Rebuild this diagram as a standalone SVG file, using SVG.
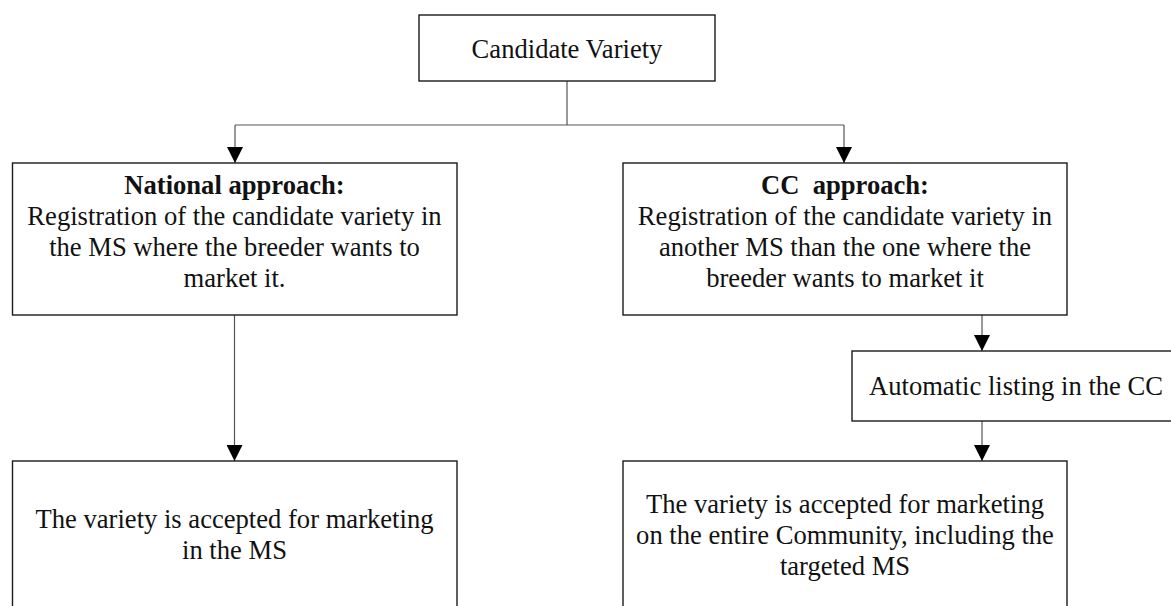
<svg xmlns="http://www.w3.org/2000/svg" width="1171" height="606" viewBox="0 0 1171 606">
  <style>
    .box { fill: #ffffff; stroke: #1a1a1a; stroke-width: 1.4; }
    .link { fill: none; stroke: #555555; stroke-width: 1.2; }
    .txt { font-family: "Liberation Serif", "Times New Roman", serif; font-size: 26.6px; fill: #111111; text-anchor: middle; }
    .bold { font-weight: bold; }
  </style>
  <defs>
    <marker id="arrow" markerUnits="userSpaceOnUse" markerWidth="16" markerHeight="16" viewBox="0 0 16 16" refX="16" refY="8" orient="auto">
      <path d="M0,0 L16,8 L0,16 z" fill="#000000"/>
    </marker>
  </defs>
  <rect width="1171" height="606" fill="#ffffff"/>

  <!-- connectors -->
  <g id="connectors">
    <polyline class="link" points="567,81 567,125"/>
    <polyline class="link" points="235,125 844,125"/>
    <line class="link" x1="235" y1="125" x2="235" y2="163" marker-end="url(#arrow)"/>
    <line class="link" x1="844" y1="125" x2="844" y2="163" marker-end="url(#arrow)"/>
    <line class="link" x1="234.5" y1="315" x2="234.5" y2="461" marker-end="url(#arrow)"/>
    <line class="link" x1="982" y1="315" x2="982" y2="351" marker-end="url(#arrow)"/>
    <line class="link" x1="982" y1="421" x2="982" y2="461" marker-end="url(#arrow)"/>
  </g>

  <!-- top node -->
  <g id="candidate">
    <rect class="box" x="419" y="15" width="296" height="66"/>
    <text class="txt" x="567" y="58">Candidate Variety</text>
  </g>

  <!-- national approach -->
  <g id="national">
    <rect class="box" x="12.5" y="163" width="444.5" height="152"/>
    <text class="txt" x="234.5" y="194"><tspan class="bold">National approach:</tspan></text>
    <text class="txt" x="234.5" y="225">Registration of the candidate variety in</text>
    <text class="txt" x="234.5" y="256">the MS where the breeder wants to</text>
    <text class="txt" x="234.5" y="287">market it.</text>
  </g>

  <!-- community catalogue approach -->
  <g id="cc-approach">
    <rect class="box" x="623" y="163" width="444" height="152"/>
    <text class="txt" x="845" y="194" xml:space="preserve"><tspan class="bold">CC  approach:</tspan></text>
    <text class="txt" x="845" y="225">Registration of the candidate variety in</text>
    <text class="txt" x="845" y="256">another MS than the one where the</text>
    <text class="txt" x="845" y="287">breeder wants to market it</text>
  </g>

  <!-- automatic listing -->
  <g id="listing">
    <rect class="box" x="852" y="351" width="330" height="70"/>
    <text class="txt" x="1016" y="395">Automatic listing in the CC</text>
  </g>

  <!-- national outcome -->
  <g id="national-result">
    <rect class="box" x="12.5" y="461" width="444.5" height="170"/>
    <text class="txt" x="234.5" y="528">The variety is accepted for marketing</text>
    <text class="txt" x="234.5" y="559">in the MS</text>
  </g>

  <!-- community outcome -->
  <g id="cc-result">
    <rect class="box" x="623" y="461" width="444" height="170"/>
    <text class="txt" x="845" y="513">The variety is accepted for marketing</text>
    <text class="txt" x="845" y="544">on the entire Community, including the</text>
    <text class="txt" x="845" y="575">targeted MS</text>
  </g>
</svg>
